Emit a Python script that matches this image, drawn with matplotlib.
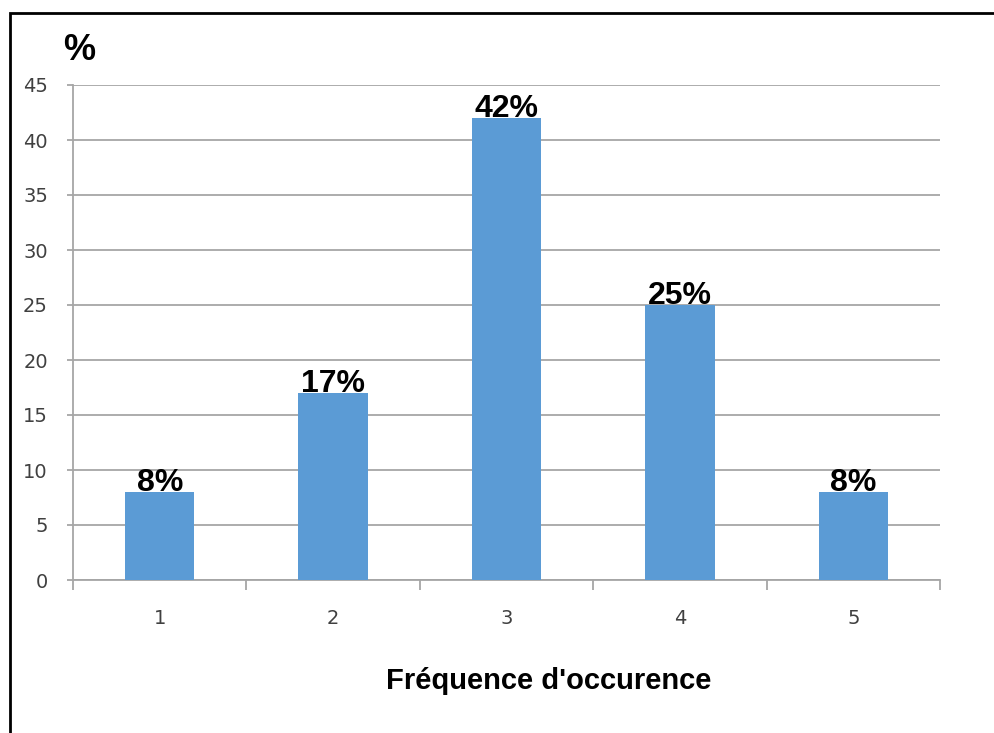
import matplotlib
matplotlib.use("Agg")
import matplotlib.pyplot as plt
from matplotlib.patches import Rectangle
from matplotlib.ticker import FixedLocator

categories = ["1", "2", "3", "4", "5"]
values = [8, 17, 42, 25, 8]
labels = ["8%", "17%", "42%", "25%", "8%"]
yticks = [0, 5, 10, 15, 20, 25, 30, 35, 40, 45]

W, H = 995, 733
fig = plt.figure(figsize=(W / 100, H / 100), dpi=100)
fig.patch.set_facecolor("white")

# frame around the chart area (left and top edges visible)
fig.add_artist(Rectangle((9.5 / W, -0.05), 1.2, 1 - 13 / H + 0.05,
                         transform=fig.transFigure, fill=False,
                         edgecolor="black", linewidth=2.0))

ax = fig.add_axes([73 / W, 1 - 580 / H, (940 - 73) / W, (580 - 85) / H])
grid_c = "#a6a6a6"
x = list(range(len(categories)))
ax.bar(x, values, width=0.40, color="#5b9bd5", zorder=3)

ax.set_xlim(-0.5, len(categories) - 0.5)
ax.set_ylim(0, 45)
ax.set_yticks(yticks)
ax.set_yticklabels([str(v) for v in yticks])
ax.set_xticks(x)
ax.set_xticklabels(categories)
ax.xaxis.set_minor_locator(FixedLocator([i - 0.5 for i in range(len(categories) + 1)]))
ax.tick_params(axis="x", which="major", length=0, pad=21, labelsize=14, labelcolor="#404040")
ax.tick_params(axis="x", which="minor", length=7, width=1.3, color=grid_c)
ax.tick_params(axis="y", length=4, width=1.3, color=grid_c, pad=14,
               labelsize=14, labelcolor="#404040")
for t in ax.get_xticklabels() + ax.get_yticklabels():
    t.set_family("DejaVu Sans")

ax.grid(axis="y", color=grid_c, linewidth=1.3, zorder=0)
for s in ["top", "right"]:
    ax.spines[s].set_visible(False)
for s in ["left", "bottom"]:
    ax.spines[s].set_color(grid_c)
    ax.spines[s].set_linewidth(1.3)

for xi, v, lab in zip(x, values, labels):
    ax.annotate(lab, (xi, v), xytext=(0, 1), textcoords="offset pixels",
                ha="center", va="baseline", fontsize=23, fontweight="bold",
                family="Liberation Sans", color="black", zorder=4)

fig.text(79 / W, 1 - 50 / H, "%", fontsize=26, fontweight="bold",
         family="Liberation Sans", ha="center", va="center")
fig.text(549 / W, 1 - 681 / H, "Fréquence d'occurence", fontsize=21,
         fontweight="bold", family="Liberation Sans", ha="center", va="center")

fig.savefig("out.png", dpi=100, facecolor="white")
